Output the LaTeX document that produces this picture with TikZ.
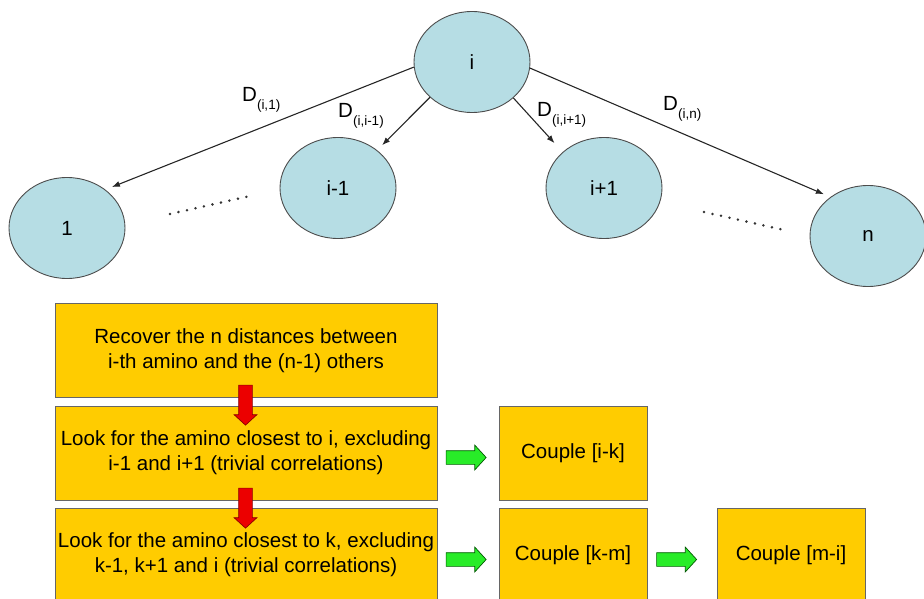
\documentclass[tikz,border=0pt]{standalone}
\usepackage{fontspec}
\setmainfont{Liberation Sans}
\usetikzlibrary{arrows.meta,shapes.geometric,shapes.arrows}
\definecolor{aminoblue}{RGB}{182,221,228}
\definecolor{stepgold}{RGB}{255,204,0}
\definecolor{flowred}{RGB}{236,0,0}
\definecolor{flowgreen}{RGB}{40,236,40}
\newcommand{\dist}[1]{D\raisebox{-7.5pt}{\fontsize{13.5}{14}\selectfont #1}}
\tikzset{
  amino/.style    = {ellipse, draw=black!70, fill=aminoblue, line width=0.9pt,
                     minimum width=116pt, minimum height=101pt, inner sep=0pt,
                     font=\fontsize{20.5}{24}\selectfont},
  distar/.style   = {-{Latex[length=8pt,width=6pt]}, black!85, line width=1.1pt,
                     shorten >=7pt},
  dlab/.style     = {anchor=base west, inner sep=0pt, font=\fontsize{20.5}{24}\selectfont},
  dotrow/.style   = {black!80, line width=2.8pt, line cap=round,
                     dash pattern=on 0pt off 8.7pt},
  stepbox/.style  = {draw=black!60, fill=stepgold, line width=0.9pt, inner sep=1pt,
                     minimum width=382pt, minimum height=94pt, align=center,
                     font=\fontsize{20.5}{25}\selectfont},
  pairbox/.style  = {stepbox, minimum width=148pt},
  nextar/.style   = {single arrow, draw=red!55!black, fill=flowred, line width=0.7pt,
                     minimum height=40pt, inner xsep=0pt, inner ysep=6.5pt,
                     single arrow head extend=4.5pt, single arrow tip angle=95,
                     rotate=-90},
  pairar/.style   = {single arrow, draw=green!35!black, fill=flowgreen, line width=0.7pt,
                     minimum height=40pt, inner xsep=0pt, inner ysep=6.5pt,
                     single arrow head extend=5.5pt, single arrow tip angle=95}
}

\begin{document}
\begin{tikzpicture}[x=1pt,y=-1pt]
  \clip (0,0) rectangle (924,599);

  \node[amino] (i)   at (472,62)  {i};
  \node[amino] (one) at (67,228)  {1};
  \node[amino] (im)  at (338,188) {i-1};
  \node[amino] (ip)  at (604,188) {i+1};
  \node[amino] (n)   at (868,236) {n};

  \draw[distar] (i.185) -- (one.45);
  \draw[distar] (i.220) -- (im.44);
  \draw[distar, shorten >=12pt] (i.319) -- (ip.139);
  \draw[distar] (i.354) -- (n.134);

  \node[dlab] (d1) at (242,102) {\dist{(i,1)}};
  \node[dlab] (d2) at (338,118) {\dist{(i,i-1)}};
  \node[dlab] (d3) at (537,117) {\dist{(i,i+1)}};
  \node[dlab] (d4) at (663,111) {\dist{(i,n)}};

  \draw[dotrow] (170,214) -- (250,196);
  \draw[dotrow] (704,212) -- (784,230);

  \node[stepbox] (s1) at (246,350.5) {Recover the n distances between\\i-th amino and the (n-1) others};
  \node[stepbox] (s2) at (246,453)   {Look for the amino closest to i, excluding\\i-1 and i+1 (trivial correlations)};
  \node[stepbox] (s3) at (246,555)   {Look for the amino closest to k, excluding\\k-1, k+1 and i (trivial correlations)};
  \node[pairbox] (ik) at (573,453)   {Couple [i-k]};
  \node[pairbox] (km) at (573,555)   {Couple [k-m]};
  \node[pairbox] (mi) at (791,555)   {Couple [m-i]};

  \node[nextar] (r1) at (245.5,402) {};
  \node[nextar] (r2) at (245.5,505) {};
  \node[pairar] (g1) at (463,457.5) {};
  \node[pairar] (g2) at (463,559.5) {};
  \node[pairar] (g3) at (673.5,559.5) {};
\end{tikzpicture}
\end{document}
